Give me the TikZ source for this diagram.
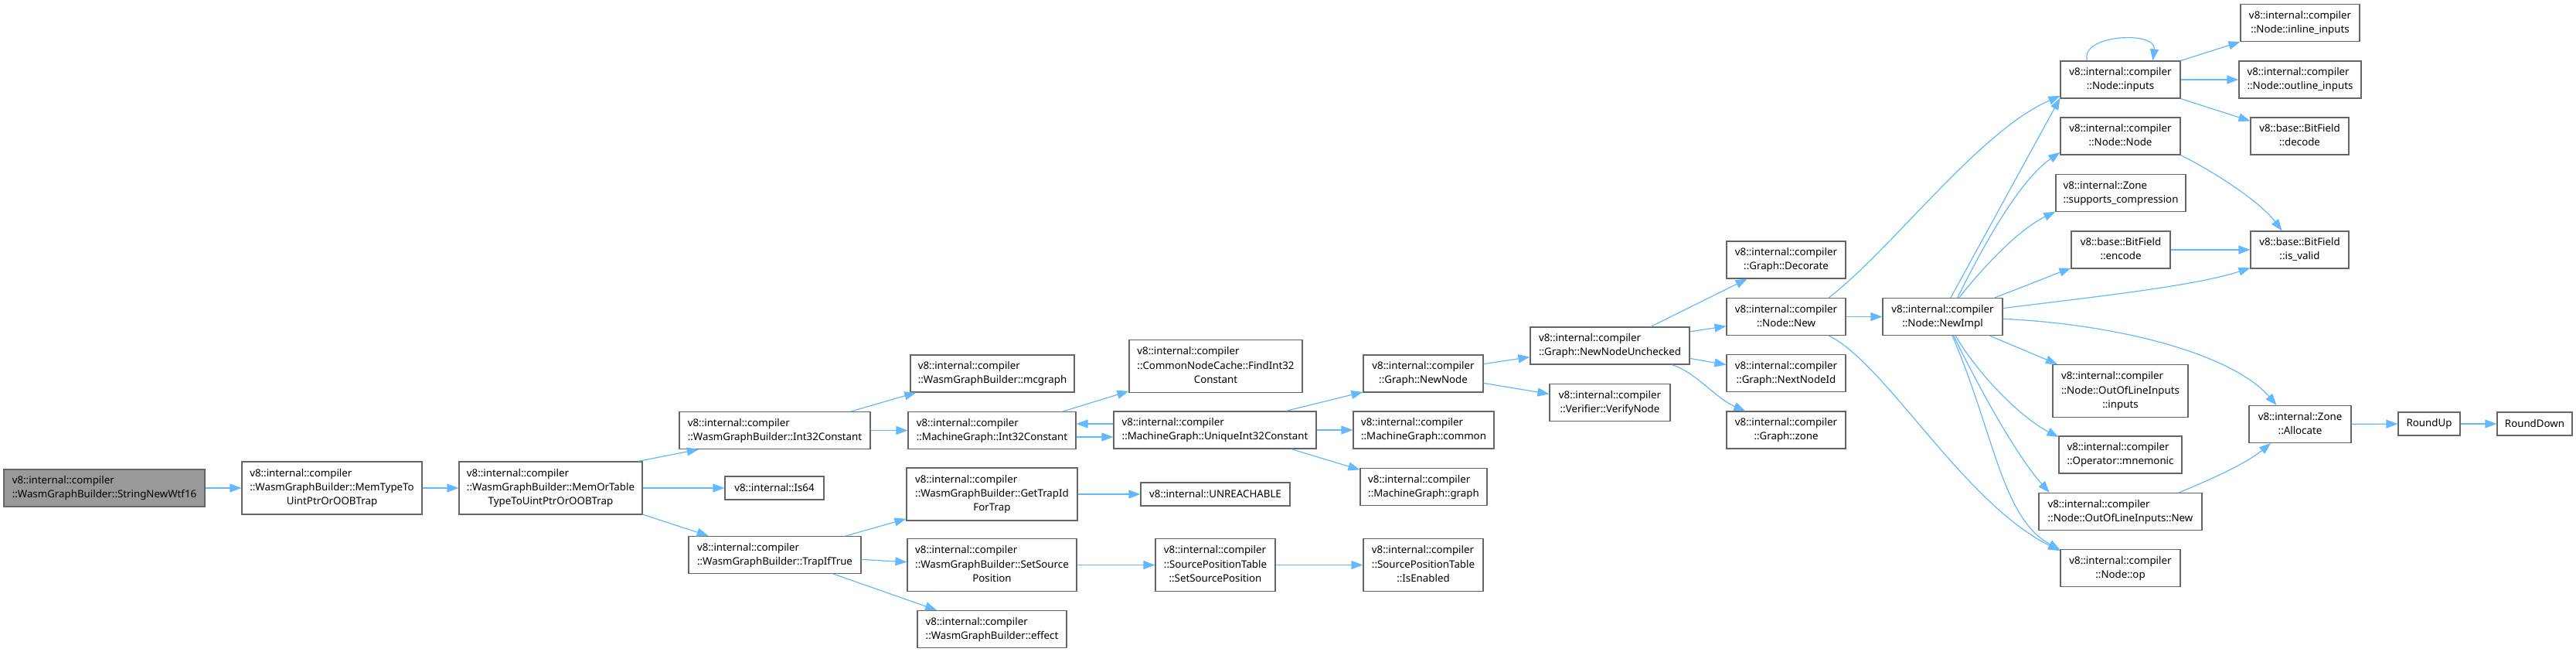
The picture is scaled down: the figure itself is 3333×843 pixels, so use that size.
\documentclass[tikz,border=0pt]{standalone}
\usepackage{fontspec}
\setmainfont{Noto Sans}
\usetikzlibrary{arrows.meta}
\definecolor{edgeblue}{HTML}{63B8FF}
\definecolor{boxline}{HTML}{666666}
\definecolor{rootfill}{HTML}{999999}
\newcommand{\lbl}[2]{\begin{tabular}{@{}l@{}}#1\\\multicolumn{1}{@{}c@{}}{#2}\end{tabular}}
\newcommand{\vic}{v8::internal::compiler}

\begin{document}
\begin{tikzpicture}[x=1pt,y=-1pt,font=\fontsize{13.3}{18.3}\selectfont,>={Triangle[length=15pt,width=11pt]},
  f/.style={draw=boxline,line width=1.2pt,fill=white,minimum height=48pt,inner sep=1pt},
  tall/.style={minimum height=68pt},
  flat/.style={minimum height=30pt},
  e/.style={->,color=edgeblue,line width=1.2pt}]
  \fill[white](0,0) rectangle (3333,843);
  \useasboundingbox (0,0) rectangle (3333,843);
  % wasm builder side
  \node[f,fill=rootfill,minimum width=260pt](wtf) at (135,631){\lbl{\vic}{::WasmGraphBuilder::StringNewWtf16}};
  \node[f,tall,minimum width=233pt](memtype) at (429.5,631){\lbl{\vic\\::WasmGraphBuilder::MemTypeTo}{UintPtrOrOOBTrap}};
  \node[f,tall,minimum width=237pt](memor) at (712.5,631){\lbl{\vic\\::WasmGraphBuilder::MemOrTable}{TypeToUintPtrOrOOBTrap}};
  \node[f,minimum width=247pt](wint) at (1002.5,556.5){\lbl{\vic}{::WasmGraphBuilder::Int32Constant}};
  \node[f,flat,minimum width=128pt](is64) at (1002,631){v8::internal::Is64};
  \node[f,minimum width=223pt](trap) at (1002.5,717.5){\lbl{\vic}{::WasmGraphBuilder::TrapIfTrue}};
  \node[f,minimum width=212pt](mcgraph) at (1284,483){\lbl{\vic}{::WasmGraphBuilder::mcgraph}};
  \node[f,minimum width=217pt](mint) at (1283.5,556.5){\lbl{\vic}{::MachineGraph::Int32Constant}};
  \node[f,tall,minimum width=221pt](trapid) at (1283.5,639){\lbl{\vic\\::WasmGraphBuilder::GetTrapId}{ForTrap}};
  \node[f,tall,minimum width=219pt](wsetsrc) at (1283.5,730.5){\lbl{\vic\\::WasmGraphBuilder::SetSource}{Position}};
  \node[f,minimum width=193pt](effect) at (1283.5,813.5){\lbl{\vic}{::WasmGraphBuilder::effect}};
  % machine graph / source positions
  \node[f,tall,minimum width=224pt](find) at (1573,473.5){\lbl{\vic\\::CommonNodeCache::FindInt32}{Constant}};
  \node[f,minimum width=262pt](unique) at (1572,556){\lbl{\vic}{::MachineGraph::UniqueInt32Constant}};
  \node[f,flat,minimum width=193pt](unreach) at (1572.5,639){v8::internal::UNREACHABLE};
  \node[f,tall,minimum width=155pt](sptset) at (1572.5,730.5){\lbl{\vic\\::SourcePositionTable}{::SetSourcePosition}};
  \node[f,minimum width=155pt](newnode) at (1841.5,483){\lbl{\vic}{::Graph::NewNode}};
  \node[f,minimum width=182pt](common) at (1842,556){\lbl{\vic}{::MachineGraph::common}};
  \node[f,minimum width=164pt](mgraph) at (1842,629.5){\lbl{\vic}{::MachineGraph::graph}};
  \node[f,tall,minimum width=155pt](enabled) at (1841.5,730.5){\lbl{\vic\\::SourcePositionTable}{::IsEnabled}};
  % graph / node internals
  \node[f,minimum width=206pt](nnu) at (2083,447){\lbl{\vic}{::Graph::NewNodeUnchecked}};
  \node[f,minimum width=156pt](verify) at (2083,520.5){\lbl{\vic}{::Verifier::VerifyNode}};
  \node[f,minimum width=154pt](decorate) at (2311,336){\lbl{\vic}{::Graph::Decorate}};
  \node[f,minimum width=154pt](new) at (2311,409.5){\lbl{\vic}{::Node::New}};
  \node[f,minimum width=154pt](nextid) at (2311,482.5){\lbl{\vic}{::Graph::NextNodeId}};
  \node[f,minimum width=154pt](gzone) at (2311,556){\lbl{\vic}{::Graph::zone}};
  \node[f,minimum width=155pt](newimpl) at (2513.5,409.5){\lbl{\vic}{::Node::NewImpl}};
  \node[f,minimum width=155pt](inputs) at (2743.5,103){\lbl{\vic}{::Node::inputs}};
  \node[f,minimum width=155pt](nodenode) at (2743.5,176){\lbl{\vic}{::Node::Node}};
  \node[f,minimum width=168pt](compress) at (2744,249.5){\lbl{v8::internal::Zone}{::supports\_compression}};
  \node[f,minimum width=128pt](encode) at (2744,323){\lbl{v8::base::BitField}{::encode}};
  \node[f,tall,minimum width=175pt](oolin) at (2743.5,505.5){\lbl{\vic\\::Node::OutOfLineInputs}{::inputs}};
  \node[f,minimum width=159pt](mnem) at (2743.5,588){\lbl{\vic}{::Operator::mnemonic}};
  \node[f,minimum width=211pt](oolnew) at (2743.5,661.5){\lbl{\vic}{::Node::OutOfLineInputs::New}};
  \node[f,minimum width=155pt](op) at (2743.5,734.5){\lbl{\vic}{::Node::op}};
  \node[f,minimum width=154pt](inline) at (2976,29.5){\lbl{\vic}{::Node::inline\_inputs}};
  \node[f,minimum width=158pt](outline) at (2976,103){\lbl{\vic}{::Node::outline\_inputs}};
  \node[f,minimum width=127pt](decode) at (2975.5,176){\lbl{v8::base::BitField}{::decode}};
  \node[f,minimum width=127pt](isvalid) at (2975.5,323){\lbl{v8::base::BitField}{::is\_valid}};
  \node[f,minimum width=132pt](alloc) at (2976,548.5){\lbl{v8::internal::Zone}{::Allocate}};
  \node[f,flat,minimum width=80pt](roundup) at (3143,548){RoundUp};
  \node[f,flat,minimum width=97pt](rounddown) at (3279.5,548){RoundDown};
  % calls
  \draw[e](wtf)--(memtype);\draw[e](memtype)--(memor);
  \draw[e](memor.17)--(wint.194);\draw[e](memor)--(is64);\draw[e](memor.344)--(trap.164);
  \draw[e](wint.14)--(mcgraph.194);\draw[e](wint)--(mint);\draw[e](mint.15)--(find.196);
  \draw[e]([yshift=-8.5pt]mint.east)--([yshift=-9pt]unique.west);\draw[e]([yshift=8pt]unique.west)--([yshift=8.5pt]mint.east);
  \draw[e](unique.15)--(newnode.197);\draw[e](unique)--(common);\draw[e](unique.346)--(mgraph.165);
  \draw[e](trap.15)--(trapid.196);\draw[e](trap.357)--(wsetsrc.178);\draw[e](trap.342)--(effect.161);
  \draw[e](trapid)--(unreach);\draw[e](wsetsrc)--(sptset);\draw[e](sptset)--(enabled);
  \draw[e](newnode.9)--(nnu.188);\draw[e](newnode.351)--(verify.172);
  \draw[e](nnu.25)--(decorate.206);\draw[e](nnu.10)--(new.189);\draw[e](nnu.351)--(nextid.172);
  \draw[e](nnu.343) .. controls (2195,482) and (2220,515) .. (gzone.155);
  \draw[e](new)--(newimpl);
  \draw[e](new.24) .. controls (2450,320) and (2560,170) .. (inputs.195);
  \draw[e](new.336) .. controls (2440,470) and (2540,650) .. (op.164);
  \draw[e](newimpl.67)--(inputs.197);
  \draw[e](newimpl.52) .. controls (2560,330) and (2610,235) .. (nodenode.195);
  \draw[e](newimpl.49) .. controls (2570,340) and (2615,295) .. (compress.196);
  \draw[e](newimpl.20)--(encode.200);
  \draw[e](newimpl.8) .. controls (2700,385) and (2840,370) .. (isvalid.200);
  \draw[e](newimpl.358) .. controls (2750,420) and (2890,460) .. (alloc.141);
  \draw[e](newimpl.338)--(oolin.157);
  \draw[e](newimpl.304) .. controls (2560,485) and (2615,540) .. (mnem.164);
  \draw[e](newimpl.300) .. controls (2565,510) and (2610,590) .. (oolnew.165);
  \draw[e](newimpl.297) .. controls (2580,560) and (2590,670) .. (op.163);
  \draw[e]([xshift=-43pt]inputs.north) .. controls +(-10,-34) and +(5,-39) .. ([xshift=42pt]inputs.north);
  \draw[e](inputs.north east)--(inline.south west);\draw[e](inputs)--(outline);\draw[e](inputs.south east)--(decode.163);
  \draw[e](nodenode.south east) .. controls (2870,225) and (2925,262) .. (isvalid.133);
  \draw[e](encode)--(isvalid);
  \draw[e](oolnew.18) .. controls (2860,620) and (2905,600) .. (alloc.213);
  \draw[e](alloc)--(roundup);\draw[e](roundup)--(rounddown);
\end{tikzpicture}
\end{document}
